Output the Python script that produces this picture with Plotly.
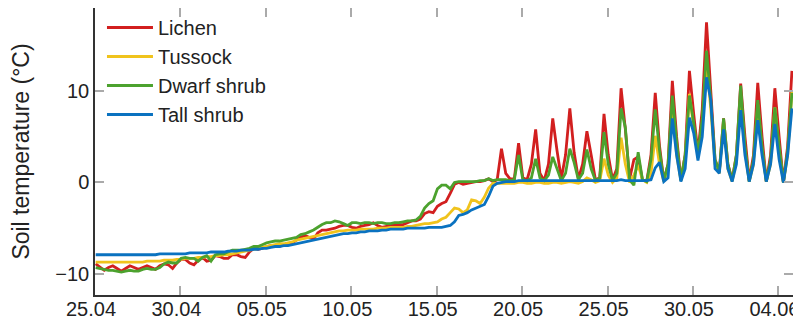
import pandas as pd
import plotly.graph_objects as go

# 6-hourly samples starting 25.04 01:00 (one line per day: 01h, 07h, 13h, 19h)
start_time = "2019-04-25 01:00"
n_points = 164

lichen = [
    -8.9, -9.3, -9.6, -9.3,
    -9.1, -9.4, -9.7, -9.4,
    -9.1, -9.3, -9.5, -9.3,
    -9.1, -9.3, -9.5, -9.1,
    -8.9, -9.0, -9.4, -8.8,
    -8.4, -8.4, -8.8, -9.0,
    -8.5, -8.2, -8.6, -8.5,
    -8.0, -8.1, -8.3, -8.3,
    -7.9, -7.9, -8.1, -8.2,
    -7.6, -7.2, -7.3, -7.2,
    -7.0, -6.9, -6.9, -7.0,
    -6.8, -6.7, -6.6, -6.3,
    -6.0, -5.8, -6.0, -6.2,
    -5.5, -5.2, -5.2, -5.1,
    -5.0, -4.8, -4.7, -4.7,
    -4.9, -5.0, -4.8, -4.7,
    -4.6, -4.4, -4.7, -4.9,
    -4.8, -4.7, -4.6, -4.6,
    -4.6, -4.4, -4.2, -4.2,
    -4.0, -3.4, -3.2, -3.3,
    -2.6, -2.3, -2.1, -1.2,
    -0.2, 0.0, -0.2, -0.1,
    0.0, 0.1, 0.1, 0.2,
    0.4, 0.1, 0.3, 3.7,
    1.0, 0.4, 0.4, 4.3,
    0.5, 0.3, 2.0, 5.8,
    1.0, 0.2, 2.0, 7.0,
    3.5, 0.4, 3.0, 8.1,
    3.3, 0.4, 2.0, 5.6,
    3.0, 0.3, 0.5, 7.5,
    3.0, 0.3, 1.5, 10.3,
    5.8, 0.4, 2.5, 2.8,
    0.3, 0.1, 3.0, 9.8,
    4.0, 0.2, 2.0, 11.1,
    5.0, 0.3, 3.0, 12.2,
    7.5, 3.2, 8.0, 17.5,
    10.0, 2.5, 1.2, 7.0,
    2.0, 0.3, 3.0, 10.8,
    5.0, 0.2, 3.0, 10.9,
    5.0, 0.1, 3.0, 10.3,
    5.0, 0.0, 4.0, 12.2,
]

tussock = [
    -8.7, -8.7, -8.7, -8.7,
    -8.7, -8.7, -8.7, -8.7,
    -8.7, -8.7, -8.7, -8.7,
    -8.6, -8.6, -8.6, -8.6,
    -8.5, -8.5, -8.5, -8.4,
    -8.4, -8.3, -8.3, -8.3,
    -8.2, -8.2, -8.1, -8.1,
    -8.0, -8.0, -7.9, -7.9,
    -7.8, -7.7, -7.6, -7.5,
    -7.4, -7.3, -7.2, -7.1,
    -7.0, -6.9, -6.8, -6.7,
    -6.7, -6.6, -6.5, -6.3,
    -6.2, -6.1, -6.0, -5.9,
    -5.8, -5.7, -5.6, -5.5,
    -5.4, -5.3, -5.3, -5.2,
    -5.2, -5.2, -5.1, -5.1,
    -5.1, -5.1, -5.0, -5.0,
    -5.0, -4.9, -4.9, -4.9,
    -4.9, -4.8, -4.8, -4.7,
    -4.6, -4.5, -4.5, -4.4,
    -4.3, -4.0, -3.8, -3.3,
    -2.8, -2.9, -3.3, -3.0,
    -1.9, -2.0, -2.3, -1.6,
    -0.6, -0.1, -0.1, -0.1,
    -0.1, -0.1, -0.1, 0.0,
    0.0, -0.1, -0.1, 0.0,
    0.0, -0.1, -0.1, 0.0,
    0.0, -0.1, 0.0, 0.1,
    0.0, -0.1, 0.1, 0.5,
    0.3, 0.0, 0.2, 2.6,
    0.8, 0.0, 0.5, 4.9,
    2.0, 0.0, 0.8, 1.9,
    0.3, 0.0, 1.0, 5.1,
    2.0, 0.1, 1.5, 8.6,
    3.0, 0.2, 2.5, 9.7,
    6.0, 3.0, 6.0, 13.3,
    8.0, 2.0, 1.0, 6.7,
    1.5, 0.1, 2.5, 9.5,
    3.5, 0.1, 2.0, 8.5,
    3.5, 0.1, 2.0, 8.2,
    3.5, 0.0, 3.0, 10.0,
]

dwarf_shrub = [
    -9.3, -9.4, -9.5, -9.6,
    -9.6, -9.7, -9.8, -9.7,
    -9.6, -9.7, -9.7, -9.5,
    -9.4, -9.5, -9.5, -9.3,
    -8.9, -8.7, -8.8, -8.8,
    -8.3, -8.2, -8.3, -8.3,
    -8.6, -8.2, -8.0, -8.6,
    -7.9, -7.8, -7.8, -7.6,
    -7.4, -7.4, -7.4, -7.3,
    -7.2, -7.0, -7.0, -6.8,
    -6.6, -6.5, -6.4, -6.4,
    -6.3, -6.2, -6.1, -6.0,
    -5.7, -5.6, -5.4, -5.2,
    -4.9, -4.6, -4.4, -4.4,
    -4.2, -4.3, -4.5, -4.7,
    -4.4, -4.4, -4.5, -4.4,
    -4.4, -4.5, -4.4, -4.4,
    -4.5, -4.5, -4.4, -4.4,
    -4.3, -4.2, -4.2, -4.1,
    -3.7, -2.8, -2.3, -2.0,
    -0.7, -0.3, -0.3, -0.7,
    0.0, 0.1, 0.1, 0.1,
    0.1, 0.1, 0.2, 0.2,
    0.4, 0.2, 0.3, 0.3,
    0.3, 0.2, 0.3, 3.0,
    0.3, 0.2, 0.5, 2.6,
    0.5, 0.2, 0.8, 2.8,
    1.5, 0.2, 1.0, 3.7,
    2.2, 0.3, 1.0, 3.6,
    1.5, 0.2, 0.5, 5.5,
    2.0, 0.2, 1.0, 8.1,
    6.0, 0.3, -0.3, 3.3,
    0.3, 0.1, 2.5, 8.0,
    3.5, 0.2, 2.0, 9.5,
    4.5, 0.2, 3.0, 9.5,
    6.5, 3.0, 7.0, 14.4,
    9.0, 2.5, 1.2, 7.0,
    2.0, 0.2, 3.0, 10.6,
    4.0, 0.1, 2.5, 9.0,
    4.0, 0.1, 2.5, 8.2,
    4.0, 0.0, 3.5, 9.8,
]

tall_shrub = [
    -7.9, -7.9, -7.9, -7.9,
    -7.9, -7.9, -7.9, -7.9,
    -7.9, -7.9, -7.9, -7.9,
    -7.9, -7.9, -7.9, -7.8,
    -7.8, -7.8, -7.8, -7.8,
    -7.8, -7.8, -7.7, -7.7,
    -7.7, -7.7, -7.7, -7.6,
    -7.6, -7.6, -7.6, -7.5,
    -7.5, -7.5, -7.4, -7.4,
    -7.4, -7.3, -7.3, -7.2,
    -7.2, -7.1, -7.0, -7.0,
    -6.9, -6.9, -6.8, -6.7,
    -6.6, -6.5, -6.4, -6.3,
    -6.2, -6.1, -6.0, -5.9,
    -5.8, -5.7, -5.6, -5.6,
    -5.5, -5.5, -5.4, -5.4,
    -5.3, -5.3, -5.3, -5.2,
    -5.2, -5.1, -5.1, -5.1,
    -5.1, -5.0, -5.0, -5.0,
    -5.0, -5.0, -4.9, -4.9,
    -4.9, -4.9, -4.8, -4.7,
    -4.3, -3.6, -3.5, -3.3,
    -3.0, -2.8, -2.6, -2.4,
    -1.5, -0.4, -0.1, 0.0,
    0.1, 0.1, 0.1, 0.2,
    0.2, 0.2, 0.2, 0.2,
    0.2, 0.2, 0.2, 0.2,
    0.2, 0.2, 0.2, 0.2,
    0.2, 0.2, 0.2, 0.2,
    0.2, 0.2, 0.2, 0.2,
    0.2, 0.2, 0.2, 0.3,
    0.2, 0.2, 0.2, 0.2,
    0.2, 0.2, 0.3, 1.6,
    2.2, 0.1, 0.5, 7.0,
    3.0, 0.1, 1.5, 7.1,
    5.4, 2.4, 5.0, 11.5,
    9.0, 1.5, 1.0, 5.8,
    1.5, 0.1, 2.0, 7.9,
    3.0, 0.1, 2.0, 6.8,
    3.0, 0.1, 2.0, 6.4,
    2.5, 0.0, 3.0, 8.1,
]

series_names = ["Lichen", "Tussock", "Dwarf shrub", "Tall shrub"]
series_colors = ["#d21f1f", "#f0c31c", "#4ca22e", "#0a72c0"]

tick_dates = ["2019-04-25", "2019-04-30", "2019-05-05", "2019-05-10", "2019-05-15",
              "2019-05-20", "2019-05-25", "2019-05-30", "2019-06-04"]
tick_labels = ["25.04", "30.04", "05.05", "10.05", "15.05",
               "20.05", "25.05", "30.05", "04.06"]
y_ticks = [-10, 0, 10]

times = pd.date_range(start_time, periods=n_points, freq="6h")

fig = go.Figure()
for name, color, vals in zip(series_names, series_colors,
                             [lichen, tussock, dwarf_shrub, tall_shrub]):
    fig.add_trace(go.Scatter(x=times, y=vals, mode="lines", name=name,
                             legendgroup=name,
                             line=dict(color=color, width=2.8)))

FONT = "Liberation Sans"
axis_common = dict(
    showline=True, linecolor="#333333", linewidth=1.5, mirror="ticks",
    ticks="inside", ticklen=9, tickwidth=1.5, tickcolor="#aaaaaa",
    showgrid=False, zeroline=False, automargin=False,
    tickfont=dict(family=FONT, size=20, color="#222222"),
)

# the page body adds an 8 px offset, so the figure is sized to fit the window
fig.update_layout(
    width=793, height=312,
    margin=dict(l=87, r=8, t=0, b=25),
    paper_bgcolor="white", plot_bgcolor="white",
    font=dict(family=FONT, size=20, color="#222222"),
    xaxis=dict(type="date", range=["2019-04-25 00:00", "2019-06-04 20:30"],
               tickvals=tick_dates, ticktext=tick_labels,
               ticklabelstandoff=-5, ticklabelshift=-4,
               ticklabeloverflow="allow", **axis_common),
    yaxis=dict(range=[-12.3, 19.07], tickvals=y_ticks,
               title=dict(text="Soil temperature (°C)", standoff=20,
                          font=dict(family=FONT, size=23, color="#222222")),
               **axis_common),
    legend=dict(x=0.01, y=1.0, xanchor="left", yanchor="top",
                bgcolor="rgba(0,0,0,0)", font=dict(family=FONT, size=20),
                itemwidth=46, tracegroupgap=0),
    showlegend=True,
)

fig.write_html("out.html", config={"displayModeBar": False})
